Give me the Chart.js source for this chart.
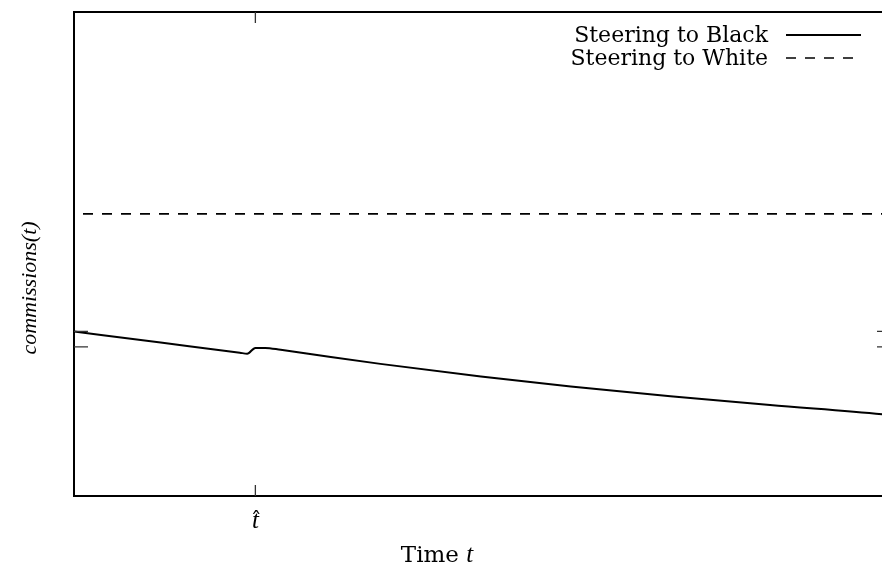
<!DOCTYPE html>
<html>
<head>
<meta charset="utf-8">
<script src="https://cdn.jsdelivr.net/npm/chart.js@4.4.0/dist/chart.umd.min.js"></script>
<style>
html, body { margin: 0; padding: 0; background: #fff; overflow: hidden; }
#wrap { width: 892px; height: 569px; }
</style>
</head>
<body>
<div id="wrap"><canvas id="chart" width="892" height="569"></canvas></div>
<script>
// Axes have no numeric labels in the figure, so both run 0..100 (arbitrary units)
const tHat = 22.2;
const blackTimes  = [0, 10.6, 20.3, 21.2, 22.2, 23.4, 25.3, 37.5, 49.8, 60.8, 73.0, 85.2, 98.9, 100];
const blackValues = [34.0, 31.7, 29.6, 29.4, 30.6, 30.6, 30.2, 27.3, 24.7, 22.6, 20.6, 18.8, 16.9, 16.7];
const whiteTimes  = [0, 100];
const whiteValues = [58.3, 58.3];
const xTickValues = [tHat];
const yTickValues = [34.0, 30.8];
const seriesLabels = ['Steering to Black', 'Steering to White'];

const SERIF = '"DejaVu Serif", serif';
const ITALIC = '"Liberation Serif", serif';

const toPoints = (xs, ys) => xs.map((x, i) => ({ x: x, y: ys[i] }));

// frame, inward ticks, labels and legend (gnuplot look)
const gnuplotFrame = {
    id: 'gnuplotFrame',
    afterDraw(chart) {
        const ctx = chart.ctx;
        const a = chart.chartArea;
        const xs = chart.scales.x;
        const ys = chart.scales.y;
        ctx.save();

        // box
        ctx.strokeStyle = '#000';
        ctx.lineWidth = 2;
        ctx.strokeRect(a.left, a.top, a.right - a.left, a.bottom - a.top);

        // ticks pointing inward
        ctx.strokeStyle = '#333';
        ctx.lineWidth = 1.3;
        ctx.beginPath();
        xTickValues.forEach(v => {
            const px = xs.getPixelForValue(v);
            ctx.moveTo(px, a.bottom); ctx.lineTo(px, a.bottom - 11);
            ctx.moveTo(px, a.top); ctx.lineTo(px, a.top + 11);
        });
        yTickValues.forEach(v => {
            const py = ys.getPixelForValue(v);
            ctx.moveTo(a.left, py); ctx.lineTo(a.left + 14, py);
            ctx.moveTo(a.right, py); ctx.lineTo(a.right - 14, py);
        });
        ctx.stroke();

        // t-hat tick label
        ctx.fillStyle = '#000';
        ctx.textAlign = 'center';
        ctx.textBaseline = 'alphabetic';
        const hx = xs.getPixelForValue(tHat);
        ctx.font = 'italic 25px ' + ITALIC;
        ctx.fillText('t', hx, 528);
        ctx.font = '22px ' + SERIF;
        ctx.fillText('\u02C6', hx + 1, 528);

        // x title
        ctx.font = '23px ' + SERIF;
        const word = 'Time ';
        const w1 = ctx.measureText(word).width;
        ctx.font = 'italic 25px ' + ITALIC;
        const w2 = ctx.measureText('t').width;
        const sx = 437 - (w1 + w2) / 2;
        ctx.textAlign = 'left';
        ctx.font = '23px ' + SERIF;
        ctx.fillText(word, sx, 562);
        ctx.font = 'italic 25px ' + ITALIC;
        ctx.fillText('t', sx + w1, 562);

        // y title
        ctx.save();
        ctx.translate(36, 288);
        ctx.rotate(-Math.PI / 2);
        ctx.textAlign = 'center';
        ctx.font = 'italic 22px ' + ITALIC;
        ctx.fillText('commissions(t)', 0, 0);
        ctx.restore();

        // legend: text right-aligned, line sample on the right
        const rows = [42, 65];
        chart.data.datasets.forEach((ds, i) => {
            ctx.font = '22px ' + SERIF;
            ctx.textAlign = 'right';
            ctx.fillStyle = '#000';
            ctx.fillText(ds.label, 768, rows[i]);
            ctx.strokeStyle = ds.borderColor;
            ctx.lineWidth = ds.borderWidth;
            ctx.setLineDash(ds.borderDash || []);
            ctx.beginPath();
            ctx.moveTo(786, rows[i] - 7);
            ctx.lineTo(861, rows[i] - 7);
            ctx.stroke();
            ctx.setLineDash([]);
        });

        ctx.restore();
    }
};

new Chart(document.getElementById('chart'), {
    type: 'line',
    data: {
        datasets: [
            {
                label: seriesLabels[0],
                data: toPoints(blackTimes, blackValues),
                borderColor: '#000',
                borderWidth: 2,
                pointRadius: 0,
                cubicInterpolationMode: 'monotone',
                fill: false
            },
            {
                label: seriesLabels[1],
                data: toPoints(whiteTimes, whiteValues),
                borderColor: '#000',
                borderWidth: 1.7,
                borderDash: [10, 9],
                borderDashOffset: 10,
                pointRadius: 0,
                fill: false
            }
        ]
    },
    options: {
        responsive: false,
        animation: false,
        layout: { padding: { left: 74, right: 1, top: 12, bottom: 73 } },
        scales: {
            x: { type: 'linear', min: 0, max: 100, display: false },
            y: { type: 'linear', min: 0, max: 100, display: false }
        },
        plugins: {
            legend: { display: false },
            tooltip: { enabled: false }
        }
    },
    plugins: [gnuplotFrame]
});
</script>
</body>
</html>
